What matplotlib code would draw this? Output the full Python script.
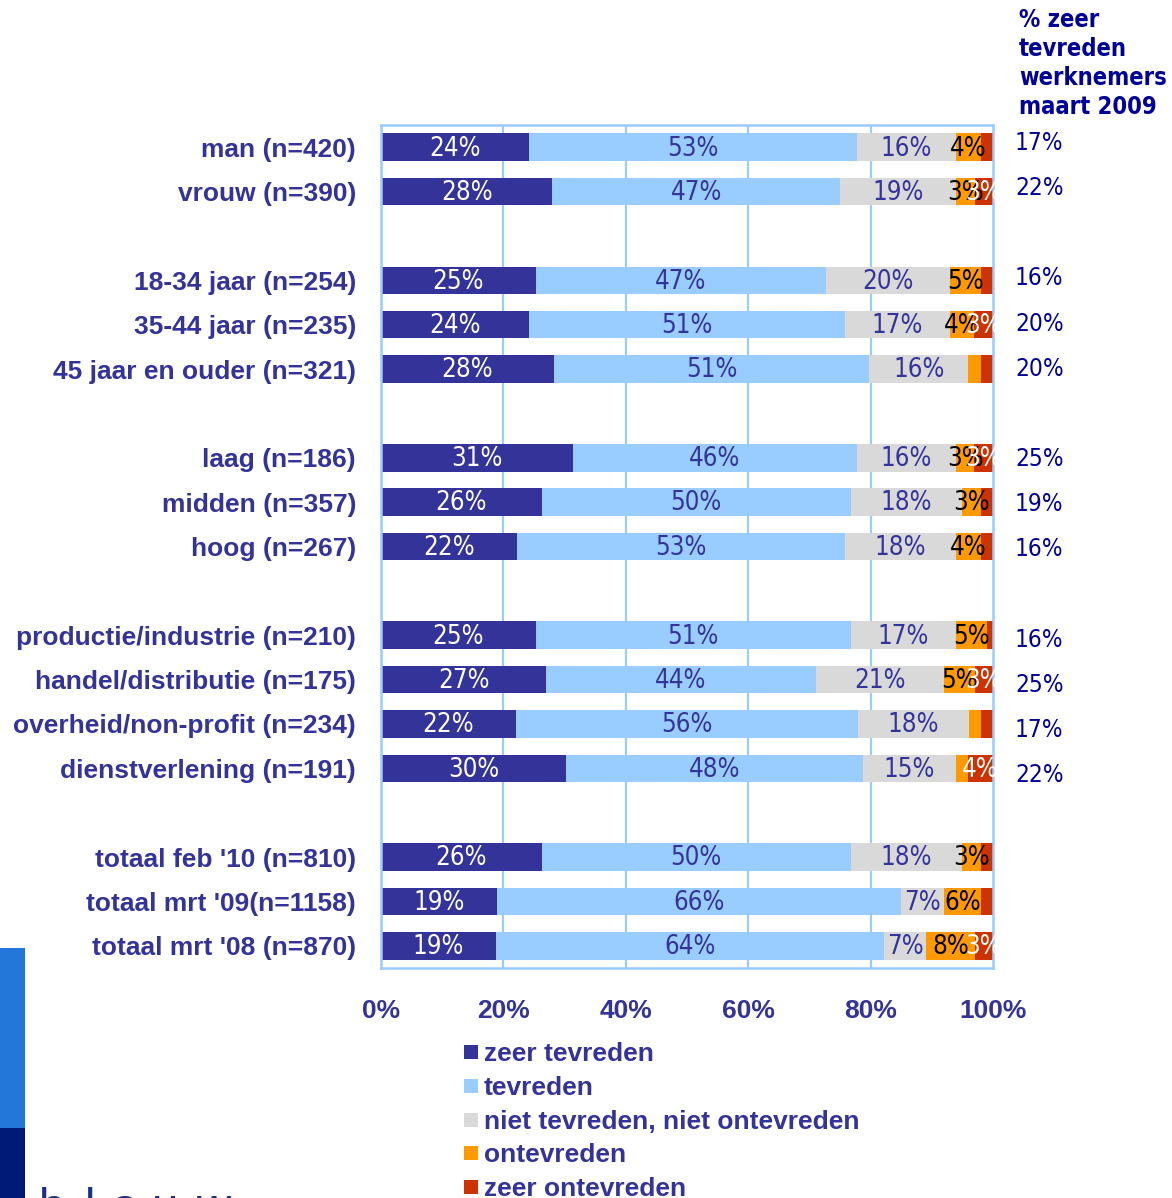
import matplotlib
matplotlib.use("Agg")
import matplotlib.pyplot as plt
import numpy as np
from matplotlib.patches import Rectangle

W, H = 1172, 1198
fig = plt.figure(figsize=(W / 100, H / 100), dpi=100)

# ---------------- data ----------------
categories = [
    "man (n=420)", "vrouw (n=390)",
    "18-34 jaar (n=254)", "35-44 jaar (n=235)", "45 jaar en ouder (n=321)",
    "laag (n=186)", "midden (n=357)", "hoog (n=267)",
    "productie/industrie (n=210)", "handel/distributie (n=175)",
    "overheid/non-profit (n=234)", "dienstverlening (n=191)",
    "totaal feb '10 (n=810)", "totaal mrt '09(n=1158)", "totaal mrt '08 (n=870)",
]
row_slots = [0, 1, 3, 4, 5, 7, 8, 9, 11, 12, 13, 14, 16, 17, 18]

series_names = ["zeer tevreden", "tevreden", "niet tevreden, niet ontevreden",
                "ontevreden", "zeer ontevreden"]
zeer_tevreden = [24, 28, 25, 24, 28, 31, 26, 22, 25, 27, 22, 30, 26, 19, 19]
tevreden = [53, 47, 47, 51, 51, 46, 50, 53, 51, 44, 56, 48, 50, 66, 64]
neutraal = [16, 19, 20, 17, 16, 16, 18, 18, 17, 21, 18, 15, 18, 7, 7]
ontevreden = [4, 3, 5, 4, 2, 3, 3, 4, 5, 5, 2, 2, 3, 6, 8]
zeer_ontevreden = [2, 3, 2, 3, 2, 3, 2, 2, 1, 3, 2, 4, 2, 2, 3]

zeer_tevreden_2009 = [17, 22, 16, 20, 20, 25, 19, 16, 16, 25, 17, 22, None, None, None]
header_lines = ["% zeer", "tevreden", "werknemers", "maart 2009"]
xtick_values = [0, 20, 40, 60, 80, 100]

# ---------------- styles ----------------
colors = ["#333399", "#99CCFF", "#D9D9D9", "#FF9900", "#CC3300"]
label_colors = ["white", "#333399", "#333399", "black", "white"]
txt_blue = "#333399"
navy = "#000099"
grid_blue = "#99CCFF"
bold_font = "Liberation Sans"
num_font = dict(family="DejaVu Sans", stretch="condensed")


def fx(px):
    return px / W


def fy(py):
    return 1 - py / H


ax = fig.add_axes([fx(381), fy(968), fx(993) - fx(381), fy(125) - fy(968)])

data = np.array([zeer_tevreden, tevreden, neutraal, ontevreden, zeer_ontevreden], dtype=float)
totals = data.sum(axis=0)
pct = data / totals * 100

y = np.array(row_slots, dtype=float)
left = np.zeros(len(categories))
for i in range(len(series_names)):
    ax.barh(y, pct[i], left=left, height=0.62, color=colors[i], zorder=3,
            label=series_names[i])
    for j in range(len(categories)):
        v = data[i, j]
        if v >= 3:
            ax.text(left[j] + pct[i, j] / 2, y[j] + 0.03, f"{int(v)}%", ha="center",
                    va="center", color=label_colors[i], fontsize=18.5,
                    zorder=5, clip_on=False, **num_font)
    left = left + pct[i]

ax.set_xlim(0, 100)
ax.set_ylim(18.5, -0.5)
ax.set_yticks(y)
ax.set_yticklabels(categories, fontsize=19, fontweight="bold", color=txt_blue,
                   family=bold_font)
ax.set_xticks(xtick_values)
ax.set_xticklabels([f"{v}%" for v in xtick_values], fontsize=19, fontweight="bold",
                   color=txt_blue, family=bold_font)
ax.tick_params(axis="y", length=0, pad=18)
ax.tick_params(axis="x", length=0, pad=22)
for v in xtick_values[1:-1]:
    ax.axvline(v, color=grid_blue, lw=1.6, zorder=1)
for s in ax.spines.values():
    s.set_color(grid_blue)
    s.set_linewidth(1.8)
    s.set_zorder(4)

# right column: % zeer tevreden maart 2009
for j, v in enumerate(zeer_tevreden_2009):
    if v is not None:
        ypix = 143 + 45.14 * row_slots[j]
        fig.text(fx(1015), fy(ypix), f"{v}%", ha="left", va="center",
                 color=navy, fontsize=17.5, **num_font)

for k, line in enumerate(header_lines):
    fig.text(fx(1019), fy(20 + 29 * k), line, ha="left", va="center",
             color=navy, fontsize=17, fontweight="bold", family="DejaVu Sans",
             stretch="condensed")

# legend
for i, name in enumerate(series_names):
    yc = 1052 + 33.8 * i
    fig.patches.append(Rectangle((fx(464), fy(yc + 7)), fx(14), 14 / H,
                                 transform=fig.transFigure, facecolor=colors[i],
                                 edgecolor="none"))
    fig.text(fx(484), fy(yc + 2), name, ha="left", va="center", color=txt_blue,
             fontsize=19, fontweight="bold", family=bold_font)

# decorative side bars and logo fragment
fig.patches.append(Rectangle((0, fy(1128)), fx(25), (1128 - 948) / H,
                             transform=fig.transFigure, facecolor="#2277D8",
                             edgecolor="none"))
fig.patches.append(Rectangle((0, 0), fx(25), (1198 - 1128) / H,
                             transform=fig.transFigure, facecolor="#001A78",
                             edgecolor="none"))
for ch, xp in zip("blauw", [38, 85, 112, 152, 196]):
    fig.text(fx(xp), fy(1187), ch, ha="left", va="top", color="#1A2E8A",
             fontsize=34, family=bold_font)

fig.savefig("out.png", dpi=100)
